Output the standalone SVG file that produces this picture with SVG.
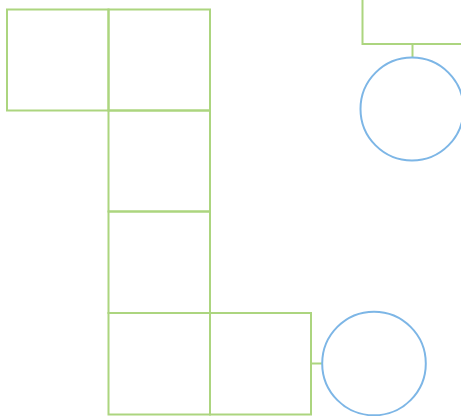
<svg xmlns="http://www.w3.org/2000/svg" width="461" height="416" viewBox="0 0 461 416">
<style>
.sq{fill:none;stroke:#acd57f;stroke-width:2}
.ci{fill:none;stroke:#7db6e6;stroke-width:2}
.cn{fill:none;stroke:#acd57f;stroke-width:2}
</style>
<rect width="461" height="416" fill="#ffffff"/>
<g id="connectors">
<line class="cn" x1="412.5" y1="44" x2="412.5" y2="57"/>
<line class="cn" x1="311" y1="363.5" x2="322" y2="363.5"/>
</g>
<g id="sq1"><rect class="sq" x="7" y="9.5" width="101.5" height="101"/></g>
<g id="sq2"><rect class="sq" x="108.5" y="9.5" width="101.5" height="101"/></g>
<g id="sq3"><rect class="sq" x="108.5" y="110.5" width="101.5" height="101"/></g>
<g id="sq4"><rect class="sq" x="108.5" y="211.5" width="101.5" height="101.5"/></g>
<g id="sq5"><rect class="sq" x="108.5" y="313" width="101.5" height="101.5"/></g>
<g id="sq6"><rect class="sq" x="210" y="313" width="101" height="101.5"/></g>
<g id="rect7"><rect class="sq" x="362.5" y="-5" width="110" height="49"/></g>
<g id="circle1"><circle class="ci" cx="412" cy="109" r="51.5"/></g>
<g id="circle2"><circle class="ci" cx="374" cy="363.5" r="51.8"/></g>
</svg>
